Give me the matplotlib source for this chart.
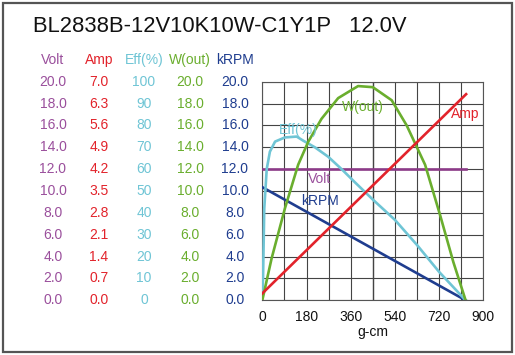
"""
Motor performance curve: BL2838B-12V10K10W-C1Y1P at 12.0V
"""
import matplotlib
matplotlib.use('Agg')  # no display
import matplotlib.pyplot as plt
import matplotlib.transforms as mtransforms
from matplotlib.patches import Rectangle

plt.rcParams['font.family'] = ['Liberation Sans', 'DejaVu Sans']

TITLE = 'BL2838B-12V10K10W-C1Y1P   12.0V'

# torque axis (g-cm)
x_ticks = [0, 180, 360, 540, 720, 900]

# left-side scale columns, top to bottom
volt_labels = ['20.0', '18.0', '16.0', '14.0', '12.0', '10.0', '8.0', '6.0', '4.0', '2.0', '0.0']
amp_labels = ['7.0', '6.3', '5.6', '4.9', '4.2', '3.5', '2.8', '2.1', '1.4', '0.7', '0.0']
eff_labels = ['100', '90', '80', '70', '60', '50', '40', '30', '20', '10', '0']
wout_labels = ['20.0', '18.0', '16.0', '14.0', '12.0', '10.0', '8.0', '6.0', '4.0', '2.0', '0.0']
krpm_labels = ['20.0', '18.0', '16.0', '14.0', '12.0', '10.0', '8.0', '6.0', '4.0', '2.0', '0.0']

# curves
volt_x = [0, 830]
volt_y = [12.0, 12.0]

amp_x = [0, 830]
amp_y = [0.22, 6.6]

krpm_x = [0, 828]
krpm_y = [10.35, 0.0]

eff_x = [0, 3, 8, 18, 31, 52, 92, 140, 167, 214, 268, 323, 377, 451, 540, 630, 720, 828]
eff_y = [3, 10, 42, 60, 68, 72.6, 74.5, 74.9, 73, 70, 65.7, 60, 54, 46, 36.8, 25.3, 13, 0]

wout_x = [0, 38, 92, 146, 187, 241, 309, 390, 450, 527, 588, 663, 724, 778, 828]
wout_y = [0, 3.84, 8.4, 12.4, 14.5, 16.6, 18.5, 19.6, 19.5, 18.3, 16.0, 12.4, 7.8, 3.5, 0]

# colours
C_VOLT = '#9a4f9c'
C_VOLT_LINE = '#8c3a88'
C_AMP = '#e2232b'
C_EFF = '#6fc5d5'
C_WOUT = '#6aae2e'
C_KRPM = '#1f3d8f'

fig = plt.figure(figsize=(5.15, 3.55), dpi=100)
fig.patch.set_facecolor('white')

# outer frame
fig.patches.append(Rectangle((3 / 515, 3 / 355), 509 / 515, 349 / 355,
                             transform=fig.transFigure, fill=False,
                             edgecolor='#555555', linewidth=1.6))

fig.text(33 / 515, 1 - 27 / 355, TITLE, fontsize=15.8, color='#111111',
         ha='left', va='center')

ax = fig.add_axes([262.3 / 515, 54.7 / 355, 221 / 515, 218.6 / 355])
ax.set_xlim(0, 900)
ax.set_ylim(0, 20)
ax.set_xticks(range(0, 901, 90))
ax.set_yticks(range(0, 21, 2))
ax.grid(True, color='#444444', linewidth=0.8)
ax.axvline(450, color='#000000', linewidth=0.9, zorder=1)
ax.tick_params(length=0, labelleft=False, labelbottom=False)
for s in ax.spines.values():
    s.set_color('#555555')
    s.set_linewidth(0.8)

# x labels (only every other gridline is labelled)
for v in x_ticks:
    ax.text(v, -1.5, str(v), ha='center', va='center', fontsize=10,
            color='#111111', clip_on=False)
ax.text(450, -2.9, 'g-cm', ha='center', va='center', fontsize=10,
        color='#111111', clip_on=False)

# curves
lw = 1.9
ax.plot(volt_x, volt_y, color=C_VOLT_LINE, linewidth=lw, zorder=3)
ax.plot(krpm_x, krpm_y, color=C_KRPM, linewidth=lw, zorder=3)
ax.plot(eff_x, [e / 5 for e in eff_y], color=C_EFF, linewidth=lw, zorder=3)
ax.plot(wout_x, wout_y, color=C_WOUT, linewidth=lw, zorder=3)
ax.plot(amp_x, [a * 20 / 7 for a in amp_y], color=C_AMP, linewidth=lw, zorder=4)

# in-plot curve labels
ax.text(325, 17.7, 'W(out)', color=C_WOUT, fontsize=10, va='center')
ax.text(68, 15.6, 'Eff(%)', color=C_EFF, fontsize=10, va='center')
ax.text(187, 11.1, 'Volt', color=C_VOLT, fontsize=10, va='center')
ax.text(158, 9.07, 'kRPM', color=C_KRPM, fontsize=10, va='center')
ax.text(767, 17.0, 'Amp', color=C_AMP, fontsize=10, va='center')

# left scale columns: x in figure, y in data
trans = mtransforms.blended_transform_factory(fig.transFigure, ax.transData)
columns = [
    (53, 'Volt', volt_labels, C_VOLT),
    (99, 'Amp', amp_labels, C_AMP),
    (144, 'Eff(%)', eff_labels, C_EFF),
    (190, 'W(out)', wout_labels, C_WOUT),
    (235, 'kRPM', krpm_labels, C_KRPM),
]
row_vals = list(range(20, -1, -2))
for xpix, head, labels, col in columns:
    fx = xpix / 515
    fig.text(fx, 1 - 60 / 355, head, color=col, fontsize=10,
             ha='center', va='center')
    for yv, lab in zip(row_vals, labels):
        ax.text(fx, yv, lab, transform=trans, color=col, fontsize=10,
                ha='center', va='center', clip_on=False)

fig.savefig('out.png', dpi=100)
